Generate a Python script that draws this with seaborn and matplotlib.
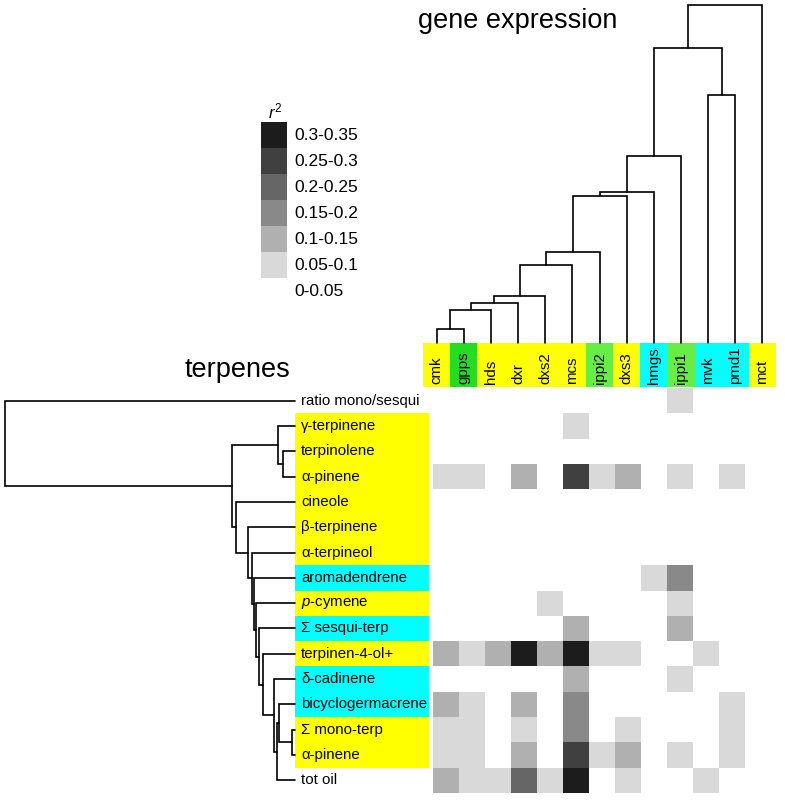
import numpy as np
import pandas as pd
import matplotlib
matplotlib.use("Agg")
import matplotlib.pyplot as plt
import seaborn as sns
from matplotlib.colors import ListedColormap

# ---------------- data ----------------
genes = ["cmk", "gpps", "hds", "dxr", "dxs2", "mcs", "ippi2", "dxs3",
         "hmgs", "ippi1", "mvk", "pmd1", "mct"]
gene_colors = ["#ffff00", "#22dd22", "#ffff00", "#ffff00", "#ffff00", "#ffff00",
               "#66ee44", "#ffff00", "#00ffff", "#66ee44", "#00ffff", "#00ffff",
               "#ffff00"]

terpenes = ["ratio mono/sesqui", "γ-terpinene", "terpinolene", "α-pinene",
            "cineole", "β-terpinene", "α-terpineol", "aromadendrene",
            "$p$-cymene", "Σ sesqui-terp", "terpinen-4-ol+", "δ-cadinene",
            "bicyclogermacrene", "Σ mono-terp", "α-pinene", "tot oil"]
terpene_colors = ["none", "#ffff00", "#ffff00", "#ffff00", "#ffff00", "#ffff00",
                  "#ffff00", "#00ffff", "#ffff00", "#00ffff", "#ffff00",
                  "#00ffff", "#00ffff", "#ffff00", "#ffff00", "none"]

r2_bins = ["0-0.05", "0.05-0.1", "0.1-0.15", "0.15-0.2", "0.2-0.25",
           "0.25-0.3", "0.3-0.35"]
bin_colors = ["#ffffff", "#d9d9d9", "#b0b0b0", "#898989", "#666666",
              "#404040", "#1c1c1c"]

# r2 class (index into r2_bins) per terpene row, columns in gene order
r2_class = [
    [0, 0, 0, 0, 0, 0, 0, 0, 0, 1, 0, 0, 0],  # ratio mono/sesqui
    [0, 0, 0, 0, 0, 1, 0, 0, 0, 0, 0, 0, 0],  # gamma-terpinene
    [0, 0, 0, 0, 0, 0, 0, 0, 0, 0, 0, 0, 0],  # terpinolene
    [1, 1, 0, 2, 0, 5, 1, 2, 0, 1, 0, 1, 0],  # alpha-pinene
    [0, 0, 0, 0, 0, 0, 0, 0, 0, 0, 0, 0, 0],  # cineole
    [0, 0, 0, 0, 0, 0, 0, 0, 0, 0, 0, 0, 0],  # beta-terpinene
    [0, 0, 0, 0, 0, 0, 0, 0, 0, 0, 0, 0, 0],  # alpha-terpineol
    [0, 0, 0, 0, 0, 0, 0, 0, 1, 3, 0, 0, 0],  # aromadendrene
    [0, 0, 0, 0, 1, 0, 0, 0, 0, 1, 0, 0, 0],  # p-cymene
    [0, 0, 0, 0, 0, 2, 0, 0, 0, 2, 0, 0, 0],  # sum sesqui-terp
    [2, 1, 2, 6, 2, 6, 1, 1, 0, 0, 1, 0, 0],  # terpinen-4-ol+
    [0, 0, 0, 0, 0, 2, 0, 0, 0, 1, 0, 0, 0],  # delta-cadinene
    [2, 1, 0, 2, 0, 3, 0, 0, 0, 0, 0, 1, 0],  # bicyclogermacrene
    [1, 1, 0, 1, 0, 3, 0, 1, 0, 0, 0, 1, 0],  # sum mono-terp
    [1, 1, 0, 2, 0, 5, 1, 2, 0, 1, 0, 1, 0],  # alpha-pinene
    [2, 1, 1, 4, 1, 6, 0, 1, 0, 0, 1, 0, 0],  # tot oil
]

# gene dendrogram: leaves 0..12, node k gets id 13+k
gene_link_a = [0, 13, 14, 15, 16, 17, 18, 19, 20, 10, 21, 23]
gene_link_b = [1, 2, 3, 4, 5, 6, 7, 8, 9, 11, 22, 12]
gene_link_h = [14, 33, 40, 47, 78, 91, 147, 151, 187, 248, 295, 338]

# terpene dendrogram: leaves 0..15, node k gets id 16+k
terp_link_a = [13, 12, 17, 11, 10, 9, 8, 7, 6, 5, 4, 2, 1, 28, 0]
terp_link_b = [14, 16, 15, 18, 19, 20, 21, 22, 23, 24, 25, 3, 27, 26, 29]
terp_link_h = [3.3, 15.7, 17.7, 20.7, 32.3, 35.7, 39, 40.7, 42.7, 46.7, 59.3,
               11.7, 17.3, 63.3, 290]

# ---------------- style ----------------
sns.set_style("white")
plt.rcParams["font.family"] = ["Liberation Sans", "DejaVu Sans"]
plt.rcParams["text.color"] = "black"
plt.rcParams["mathtext.fontset"] = "custom"
plt.rcParams["mathtext.rm"] = "Liberation Sans"
plt.rcParams["mathtext.it"] = "Liberation Sans:italic"

W, H = 785, 800
fig = plt.figure(figsize=(W / 100, H / 100), dpi=100)


def rect(x0, y0, x1, y1):
    return [x0 / W, 1 - y1 / H, (x1 - x0) / W, (y1 - y0) / H]


def draw_dendro(ax, n_leaves, la, lb, lh, orient):
    pos = {i: i + 0.5 for i in range(n_leaves)}
    hgt = {i: 0.0 for i in range(n_leaves)}
    for k, (a, b, h) in enumerate(zip(la, lb, lh)):
        pa, pb = pos[a], pos[b]
        xs = [pa, pa, pb, pb]
        ys = [hgt[a], h, h, hgt[b]]
        if orient == "top":
            ax.plot(xs, ys, color="black", lw=1.2, clip_on=False,
                    solid_joinstyle="miter")
        else:
            ax.plot(ys, xs, color="black", lw=1.2, clip_on=False,
                    solid_joinstyle="miter")
        pos[n_leaves + k] = (pa + pb) / 2
        hgt[n_leaves + k] = h


# ---------------- heatmap ----------------
df = pd.DataFrame(r2_class, index=range(len(terpenes)), columns=genes)
ax_hm = fig.add_axes(rect(433, 388, 771, 793))
sns.heatmap(df, ax=ax_hm, cmap=ListedColormap(bin_colors), vmin=-0.5,
            vmax=len(bin_colors) - 0.5, cbar=False, xticklabels=False,
            yticklabels=False, linewidths=0)
ax_hm.set_axis_off()

# ---------------- row labels ----------------
nr = len(terpenes)
ax_rl = fig.add_axes(rect(295, 388, 429, 793))
ax_rl.barh(np.arange(nr) + 0.5, 1, height=1, left=0,
           color=[c if c != "none" else "white" for c in terpene_colors],
           linewidth=0)
for i, t in enumerate(terpenes):
    ax_rl.text(6 / 134, i + 0.5, t, va="center", ha="left", fontsize=10.8,
               color="black")
ax_rl.set_xlim(0, 1)
ax_rl.set_ylim(nr, 0)
ax_rl.set_axis_off()

# ---------------- column labels ----------------
nc = len(genes)
ax_cl = fig.add_axes(rect(423, 343, 776, 387))
ax_cl.bar(np.arange(nc) + 0.5, 1, width=1, color=gene_colors, linewidth=0)
for j, g in enumerate(genes):
    ax_cl.text(j + 0.5, 3 / 44, g, rotation=90, va="bottom", ha="center",
               fontsize=10.8, color="black")
ax_cl.set_xlim(0, nc)
ax_cl.set_ylim(0, 1)
ax_cl.set_axis_off()

# ---------------- dendrograms ----------------
ax_td = fig.add_axes(rect(423, 0, 776, 343))
draw_dendro(ax_td, nc, gene_link_a, gene_link_b, gene_link_h, "top")
ax_td.set_xlim(0, nc)
ax_td.set_ylim(0, 343)
ax_td.set_axis_off()

ax_ld = fig.add_axes(rect(0, 388, 295, 793))
draw_dendro(ax_ld, nr, terp_link_a, terp_link_b, terp_link_h, "left")
ax_ld.set_xlim(295, 0)
ax_ld.set_ylim(nr, 0)
ax_ld.set_axis_off()

# ---------------- legend ----------------
nb = len(r2_bins)
ax_lg = fig.add_axes(rect(261, 122, 287, 122 + 26 * nb))
order = list(range(nb))[::-1]
ax_lg.barh(np.arange(nb) + 0.5, 1, height=1, left=0,
           color=[bin_colors[k] for k in order], linewidth=0)
for r, k in enumerate(order):
    ax_lg.text(33 / 26, r + 0.5, r2_bins[k], va="center", ha="left",
               fontsize=12.5, color="black")
ax_lg.text(14 / 26, -0.42, "$r^2$", va="center", ha="center", fontsize=12,
           color="black")
ax_lg.set_xlim(0, 1)
ax_lg.set_ylim(nb, 0)
ax_lg.set_axis_off()

# ---------------- titles ----------------
fig.text(418 / W, 1 - 28 / H, "gene expression", fontsize=19.5,
         va="baseline", ha="left", color="black")
fig.text(290 / W, 1 - 377 / H, "terpenes", fontsize=19.5,
         va="baseline", ha="right", color="black")

fig.savefig("out.png", dpi=100, facecolor="white")
